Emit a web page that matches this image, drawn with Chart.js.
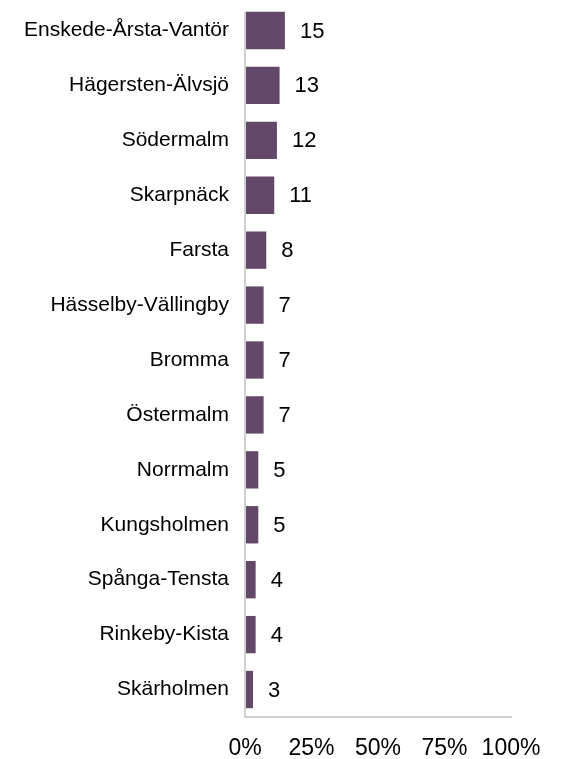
<!DOCTYPE html>
<html>
<head>
<meta charset="utf-8">
<script src="https://cdn.jsdelivr.net/npm/chart.js@4"></script>
<style>
  html, body { margin: 0; padding: 0; background: #fff; }
  #wrap { width: 563px; height: 759px; }
</style>
</head>
<body>
<div id="wrap"><canvas id="c" width="563" height="759"></canvas></div>
<script>
const categories = [
  "Enskede-Årsta-Vantör",
  "Hägersten-Älvsjö",
  "Södermalm",
  "Skarpnäck",
  "Farsta",
  "Hässelby-Vällingby",
  "Bromma",
  "Östermalm",
  "Norrmalm",
  "Kungsholmen",
  "Spånga-Tensta",
  "Rinkeby-Kista",
  "Skärholmen"
];
const values = [15, 13, 12, 11, 8, 7, 7, 7, 5, 5, 4, 4, 3];
const xTicks = [0, 25, 50, 75, 100];

const FONT = "'Liberation Sans', Arial, sans-serif";
const AXIS_COLOR = '#d0d0d0';

const valueLabels = {
  id: 'valueLabels',
  afterDatasetsDraw(chart) {
    const ctx = chart.ctx;
    const meta = chart.getDatasetMeta(0);
    ctx.save();
    ctx.font = "22px " + FONT;
    ctx.fillStyle = "#000";
    ctx.textAlign = "left";
    ctx.textBaseline = "middle";
    meta.data.forEach((bar, i) => {
      ctx.fillText(String(values[i]), bar.x + 15, bar.y + 1);
    });
    ctx.restore();
  }
};

// vertical axis line starting at the top of the first bar
const yAxisLine = {
  id: 'yAxisLine',
  afterDatasetsDraw(chart) {
    const ctx = chart.ctx;
    const first = chart.getDatasetMeta(0).data[0];
    const a = chart.chartArea;
    ctx.save();
    ctx.strokeStyle = AXIS_COLOR;
    ctx.lineWidth = 2;
    ctx.beginPath();
    ctx.moveTo(a.left, first.y - first.height / 2);
    ctx.lineTo(a.left, a.bottom);
    ctx.stroke();
    ctx.restore();
  }
};

new Chart(document.getElementById('c'), {
  type: 'bar',
  data: {
    labels: categories,
    datasets: [{
      data: values,
      backgroundColor: '#644869',
      borderWidth: 0,
      barPercentage: 0.68,
      categoryPercentage: 1.0
    }]
  },
  options: {
    indexAxis: 'y',
    responsive: false,
    animation: false,
    layout: { padding: { top: 3, right: 52, bottom: 0, left: 0 } },
    plugins: { legend: { display: false }, tooltip: { enabled: false } },
    scales: {
      x: {
        min: 0, max: 100,
        afterBuildTicks(scale) { scale.ticks = xTicks.map(v => ({ value: v })); },
        ticks: {
          callback: v => v + '%',
          color: '#000',
          font: { family: FONT, size: 23 },
          padding: 18,
          maxRotation: 0,
          autoSkip: false
        },
        grid: { display: false, drawTicks: false },
        border: { display: true, color: AXIS_COLOR, width: 2 },
        afterFit(scale) { scale.height = 42; scale.paddingLeft = 0; scale.paddingRight = 0; }
      },
      y: {
        ticks: {
          color: '#000',
          font: { family: FONT, size: 21 },
          padding: 16,
          autoSkip: false
        },
        grid: { display: false, drawTicks: false },
        border: { display: false },
        afterFit(scale) { scale.width = 245; scale.paddingTop = 0; scale.paddingBottom = 0; }
      }
    }
  },
  plugins: [valueLabels, yAxisLine]
});
</script>
</body>
</html>
